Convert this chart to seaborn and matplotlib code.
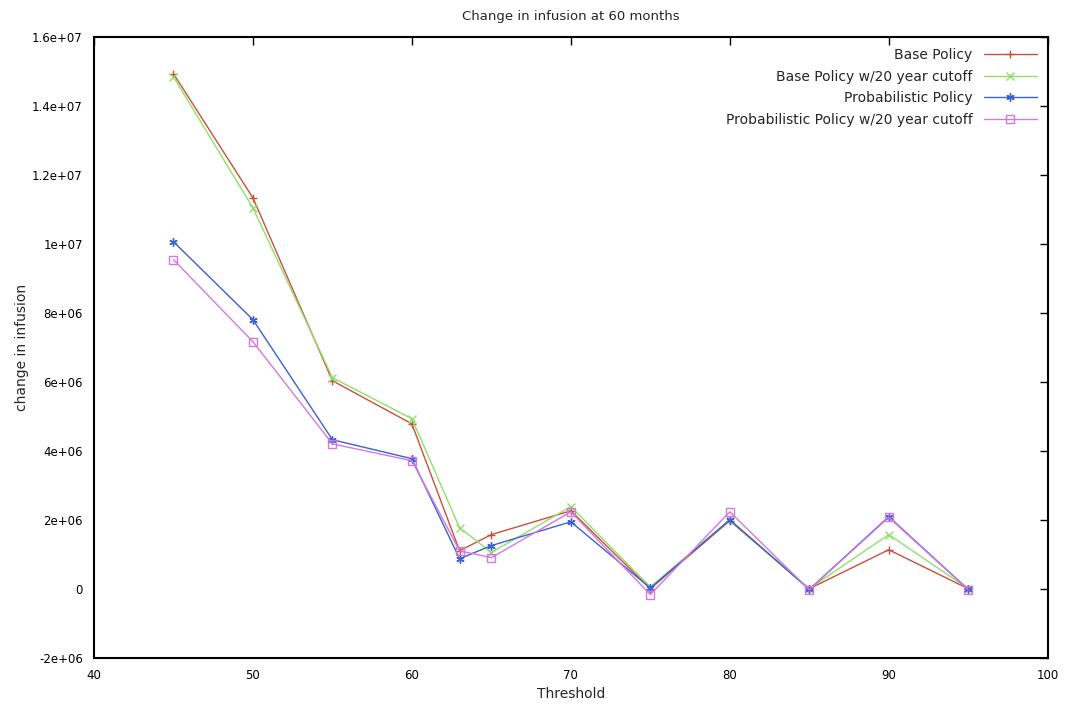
import matplotlib
matplotlib.use("Agg")
import matplotlib.pyplot as plt
import seaborn as sns

# thresholds on x axis
threshold = [45, 50, 55, 60, 63, 65, 70, 75, 80, 85, 90, 95]

# change in infusion at 60 months
base = [14.93e6, 11.33e6, 6.03e6, 4.78e6, 1.10e6, 1.57e6, 2.26e6, 0.0, 1.97e6, 0.0, 1.13e6, 0.0]
base_cut = [14.84e6, 11.04e6, 6.12e6, 4.93e6, 1.77e6, 1.05e6, 2.38e6, 0.05e6, 2.0e6, 0.0, 1.57e6, 0.0]
prob = [10.06e6, 7.8e6, 4.32e6, 3.77e6, 0.87e6, 1.25e6, 1.94e6, 0.02e6, 2.0e6, -0.02e6, 2.09e6, -0.02e6]
prob_cut = [9.54e6, 7.16e6, 4.2e6, 3.71e6, 1.1e6, 0.9e6, 2.23e6, -0.17e6, 2.23e6, -0.03e6, 2.07e6, -0.03e6]

labels = ["Base Policy", "Base Policy w/20 year cutoff",
          "Probabilistic Policy", "Probabilistic Policy w/20 year cutoff"]
yticks = [-2e6, 0, 2e6, 4e6, 6e6, 8e6, 1e7, 1.2e7, 1.4e7, 1.6e7]
yticklabels = ["-2e+06", "0", "2e+06", "4e+06", "6e+06", "8e+06",
               "1e+07", "1.2e+07", "1.4e+07", "1.6e+07"]

sns.set_style("white")
plt.rcParams["font.family"] = ["DejaVu Sans"]

fig, ax = plt.subplots(figsize=(10.68, 7.08), dpi=100)
fig.subplots_adjust(left=0.088, right=0.981, top=0.948, bottom=0.071)

series = [base, base_cut, prob, prob_cut]
colors = ["#c8503c", "#8ee06a", "#3a62d0", "#d478e0"]
markers = ["+", "x", (6, 2, 0), "s"]
for vals, lab, col, mk in zip(series, labels, colors, markers):
    sns.lineplot(x=threshold, y=vals, color=col, marker=mk, markersize=6,
                 linewidth=1.0, label=lab, ax=ax,
                 markerfacecolor="none" if mk == "s" else col,
                 markeredgecolor=col, markeredgewidth=1.0)

ax.set_xlim(40, 100)
ax.set_ylim(-2e6, 1.6e7)
ax.set_xticks(range(40, 101, 10))
ax.set_yticks(yticks)
ax.set_yticklabels(yticklabels)
ax.tick_params(direction="in", length=6, width=1, labelsize=8.5, colors="black",
               top=True, right=True, pad=8)
for s in ax.spines.values():
    s.set_linewidth(1.5)
    s.set_color("black")

ax.set_title("Change in infusion at 60 months", fontsize=9.5, pad=12)
ax.set_xlabel("Threshold", fontsize=10, labelpad=4)
ax.set_ylabel("change in infusion", fontsize=10, labelpad=2)

ax.legend(loc="upper right", frameon=False, markerfirst=False, fontsize=10,
          handlelength=3.8, handletextpad=0.8, labelspacing=0.55,
          borderaxespad=0.5, borderpad=0.3)

plt.savefig("out.png", dpi=100)
